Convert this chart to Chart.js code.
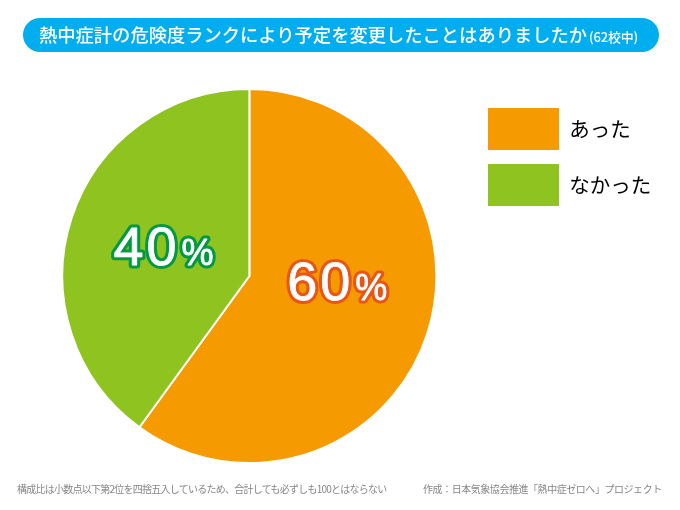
<!DOCTYPE html>
<html lang="ja"><head><meta charset="utf-8">
<script src="https://cdn.jsdelivr.net/npm/chart.js@4"></script>
<style>
html,body{margin:0;padding:0;background:#fff;width:680px;height:510px;overflow:hidden}
body{position:relative;font-family:"Noto Sans CJK JP","Noto Sans",sans-serif}
#wrap{position:absolute;left:0;top:0;width:680px;height:510px}
#pill{position:absolute;left:23px;top:18px;width:636px;height:34px;box-sizing:border-box;background:#00AEEF;border:2px dotted #00AEEF;border-radius:17px;color:#fff;font-weight:500;font-size:18.3px;line-height:28px;white-space:nowrap;padding-left:14px}
#pill small{font-size:13px;font-weight:500;margin-left:2px;letter-spacing:-0.2px}
.note{position:absolute;top:482px;color:#868686;font-size:10px;line-height:14px;white-space:nowrap}
</style></head><body>
<div id="wrap"><canvas id="c" width="680" height="510"></canvas></div>
<div id="pill"><span id="t1"></span><small id="t2"></small></div>
<div class="note" id="n1" style="left:17px;letter-spacing:-0.75px"></div>
<div class="note" id="n2" style="left:423px;letter-spacing:-0.45px"></div>
<script>
const titleMain = "熱中症計の危険度ランクにより予定を変更したことはありましたか";
const titleSub = "(62校中)";
const noteLeft = "構成比は小数点以下第2位を四捨五入しているため、合計しても必ずしも100とはならない";
const noteRight = "作成：日本気象協会推進「熱中症ゼロへ」プロジェクト";
const categories = ["あった", "なかった"];
const values = [60, 40];
const sliceColors = ["#F59A00", "#8FC31F"];
const labelOutlines = ["#E95513", "#009944"];

document.getElementById("t1").textContent = titleMain;
document.getElementById("t2").textContent = titleSub;
document.getElementById("n1").textContent = noteLeft;
document.getElementById("n2").textContent = noteRight;

const placeLegend = {
  id: "placeLegend",
  afterLayout(chart) {
    const l = chart.legend;
    const w = l.width, h = l.height;
    l.left = 484 - 10; l.right = l.left + w;
    l.top = 104 - 10; l.bottom = l.top + h;
  }
};
const percentLabels = {
  id: "percentLabels",
  afterDatasetsDraw(chart) {
    const ctx = chart.ctx;
    const arcs = chart.getDatasetMeta(0).data;
    const shifts = [[-1, -5], [3, 18]];
    arcs.forEach((arc, i) => {
      const p = arc.tooltipPosition();
      const num = String(values[i]);
      const bigFont = '54px "Liberation Sans", Arial, sans-serif';
      const smallFont = '36px "Liberation Sans", Arial, sans-serif';
      ctx.save();
      ctx.textBaseline = "alphabetic";
      ctx.textAlign = "left";
      ctx.lineJoin = "round";
      ctx.font = bigFont; const wn = ctx.measureText(num).width + 3;
      ctx.font = smallFont; const wp = ctx.measureText("%").width;
      const gap = 5;
      const x = p.x + shifts[i][0] - (wn + gap + wp) / 2;
      const y = p.y + shifts[i][1];
      const parts = [
        [bigFont, num.charAt(0), x],
        [bigFont, num.charAt(1), x + wn / 2 + 1.5],
        [smallFont, "%", x + wn + gap]
      ];
      parts.forEach(([f, s, tx]) => {
        ctx.font = f;
        ctx.strokeStyle = labelOutlines[i]; ctx.lineWidth = 7;
        ctx.strokeText(s, tx, y);
      });
      parts.forEach(([f, s, tx]) => {
        ctx.font = f;
        ctx.strokeStyle = "#fff"; ctx.lineWidth = 0.8;
        ctx.strokeText(s, tx, y);
        ctx.fillStyle = "#fff";
        ctx.fillText(s, tx, y);
      });
      ctx.restore();
    });
  }
};

new Chart(document.getElementById("c"), {
  type: "pie",
  data: {
    labels: categories,
    datasets: [{ data: values, backgroundColor: sliceColors, borderColor: "#fff", borderWidth: 2 }]
  },
  options: {
    responsive: false,
    animation: false,
    layout: { padding: { left: 60, top: 88, bottom: 46, right: 54 } },
    plugins: {
      tooltip: { enabled: false },
      title: { display: false },
      legend: {
        display: true,
        position: "right",
        align: "start",
        labels: {
          boxWidth: 71, boxHeight: 42, padding: 14,
          color: "#111",
          font: { size: 20.5, family: '"Noto Sans CJK JP", sans-serif', weight: "400" },
          generateLabels(chart) {
            return categories.map((c, i) => ({
              text: c, fillStyle: sliceColors[i], strokeStyle: sliceColors[i], lineWidth: 0, index: i, hidden: false
            }));
          }
        }
      }
    }
  },
  plugins: [placeLegend, percentLabels]
});
</script>
</body></html>
